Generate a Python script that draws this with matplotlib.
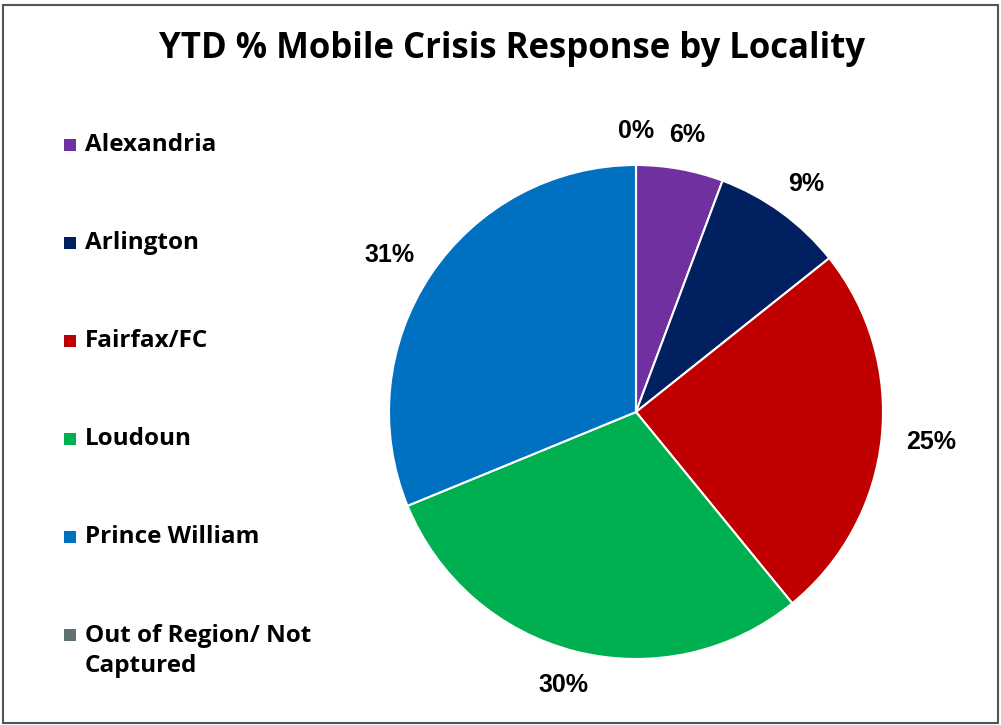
import numpy as np
import matplotlib.pyplot as plt
from matplotlib.patches import Rectangle

# data
localities = ["Alexandria", "Arlington", "Fairfax/FC", "Loudoun",
              "Prince William", "Out of Region/ Not\nCaptured"]
shares = [5.7, 8.6, 24.8, 29.7, 31.2, 0.0]
colors = ["#7030A0", "#002060", "#C00000", "#00B050", "#0070C0", "#607373"]

W, H = 1001, 725
fig = plt.figure(figsize=(W / 100, H / 100), dpi=100)

# outer frame
fig.patches.append(Rectangle((3 / W, 2 / H), 995 / W, 718 / H, transform=fig.transFigure,
                             fill=False, edgecolor="#555555", linewidth=1.5))

fig.text(512 / W, 1 - 49 / H, "YTD % Mobile Crisis Response by Locality",
         ha="center", va="center", fontsize=25, fontweight="bold", family="Open Sans")

# pie: centre (636, 412) px, radius 247 px
cx, cy, r = 636, 412, 247
ax = fig.add_axes([(cx - r) / W, (H - cy - r) / H, 2 * r / W, 2 * r / H])
wedges, texts, autotexts = ax.pie(
    shares, colors=colors, startangle=90, counterclock=False,
    autopct=lambda p: f"{p:.0f}%", pctdistance=1.16,
    wedgeprops=dict(edgecolor="white", linewidth=1.5))
ax.set_xlim(-1, 1)
ax.set_ylim(-1, 1)
ax.set_aspect("equal")
ax.axis("off")

for t in autotexts:
    t.set_fontsize(18)
    t.set_fontweight("bold")
    t.set_family("Liberation Sans")

# "outside end" placement: box pushed outward from the rim
fig.canvas.draw()
rend = fig.canvas.get_renderer()
for w, t in zip(wedges, autotexts):
    ang = np.deg2rad((w.theta1 + w.theta2) / 2)
    bb = t.get_window_extent(rend)
    hw = bb.width / 2 / r
    hh = bb.height / 2 / r * 0.8
    d = 1.10
    t.set_position((d * np.cos(ang) + hw * np.cos(ang), d * np.sin(ang) + hh * np.sin(ang)))
    t.set_ha("center")
    t.set_va("center")

# legend on the left
for i, (name, col) in enumerate(zip(localities, colors)):
    ypix = 145 + i * 98
    fig.patches.append(Rectangle((64 / W, 1 - (ypix + 6) / H), 12 / W, 12 / H,
                                 transform=fig.transFigure, facecolor=col, edgecolor="none"))
    ty = ypix + 16 if "\n" in name else ypix
    fig.text(85 / W, 1 - ty / H, name, ha="left", va="center",
             fontsize=17.5, fontweight="bold", family="Open Sans", linespacing=1.3)

fig.savefig("out.png", dpi=100)
